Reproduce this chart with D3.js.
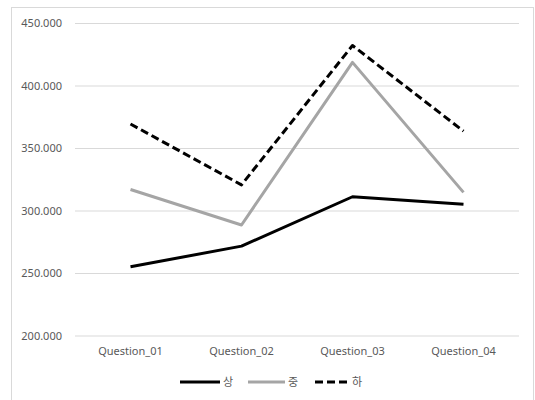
<!DOCTYPE html>
<html>
<head>
<meta charset="utf-8">
<script src="https://cdn.jsdelivr.net/npm/d3@7"></script>
<style>
  html, body { margin: 0; padding: 0; background: #fff; }
  svg { display: block; }
  text { font-family: "Noto Sans", "Noto Sans CJK KR", sans-serif; fill: #595959; }
</style>
</head>
<body>
<svg id="chart" width="535" height="400"></svg>
<script>
// Categories and series
const categories = ["Question_01", "Question_02", "Question_03", "Question_04"];
const seriesNames = ["상", "중", "하"];
const valuesHigh = [255.0, 271.5, 311.0, 305.0];
const valuesMid = [316.8, 288.4, 418.5, 314.5];
const valuesLow = [369.2, 320.5, 432.0, 363.5];
const yTicks = [200, 250, 300, 350, 400, 450];

const series = [
  { name: seriesNames[0], values: valuesHigh, color: "#000000", dash: null },
  { name: seriesNames[1], values: valuesMid, color: "#a5a5a5", dash: null },
  { name: seriesNames[2], values: valuesLow, color: "#000000", dash: "8,4" }
];

const svg = d3.select("#chart");

// Outer chart frame
svg.append("rect")
  .attr("x", 11.5).attr("y", 7.5)
  .attr("width", 522).attr("height", 400)
  .attr("fill", "#fff").attr("stroke", "#d9d9d9");

const plot = { left: 75, right: 519, top: 23, bottom: 335.5 };

const x = d3.scaleBand().domain(categories).range([plot.left, plot.right]);
const y = d3.scaleLinear().domain([200, 450]).range([plot.bottom, plot.top]);

// Horizontal gridlines and value labels
const yAxis = d3.axisLeft(y)
  .tickValues(yTicks)
  .tickSize(-(plot.right - plot.left))
  .tickPadding(13)
  .tickFormat(d3.format(".3f"));

const gy = svg.append("g")
  .attr("transform", `translate(${plot.left},0)`)
  .call(yAxis);
gy.select(".domain").remove();
gy.selectAll(".tick line").attr("stroke", "#d9d9d9").attr("stroke-width", 1);
gy.selectAll(".tick text").attr("font-size", 11).style("fill", "#595959");

// Category labels
const xAxis = d3.axisBottom(x).tickSize(0).tickPadding(12);
const gx = svg.append("g")
  .attr("transform", `translate(0,${plot.bottom})`)
  .call(xAxis);
gx.select(".domain").remove();
gx.selectAll(".tick text").attr("font-size", 11).style("fill", "#595959");

// Series lines
const line = d3.line()
  .x((d, i) => x(categories[i]) + x.bandwidth() / 2)
  .y(d => y(d));

svg.append("g").selectAll("path")
  .data(series)
  .join("path")
  .attr("d", d => line(d.values))
  .attr("fill", "none")
  .attr("stroke", d => d.color)
  .attr("stroke-width", 3)
  .attr("stroke-dasharray", d => d.dash)
  .attr("stroke-linejoin", "round");

// Legend
const legendItems = [
  { x1: 180, x2: 220, tx: 223 },
  { x1: 248, x2: 285, tx: 288 },
  { x1: 315, x2: 347, tx: 352 }
];
const legendY = 382;
const lg = svg.append("g");
series.forEach((s, i) => {
  const p = legendItems[i];
  lg.append("line")
    .attr("x1", p.x1).attr("x2", p.x2)
    .attr("y1", legendY).attr("y2", legendY)
    .attr("stroke", s.color).attr("stroke-width", 3)
    .attr("stroke-dasharray", s.dash);
  lg.append("text")
    .attr("x", p.tx).attr("y", legendY + 4)
    .attr("font-size", 11)
    .text(s.name);
});
</script>
</body>
</html>
